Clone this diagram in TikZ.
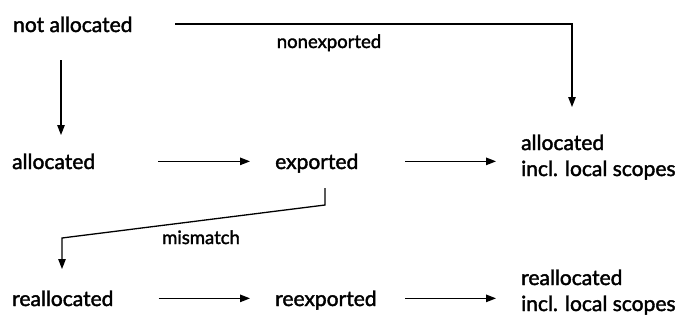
\documentclass[tikz,border=0pt]{standalone}
\usepackage{fontspec}
\setmainfont{Lato}[FakeBold=1.8]
\usetikzlibrary{arrows.meta,calc}
\begin{document}
\begin{tikzpicture}[x=1pt,y=-1pt,
  lbl/.style={inner sep=0pt,font=\fontsize{21}{26}\selectfont,anchor=base west},
  small/.style={inner sep=0pt,font=\fontsize{18.5}{22}\selectfont,anchor=base},
  arr/.style={line width=1.3pt,-{Triangle[length=10pt,width=7.5pt]}}]
\useasboundingbox (0,0) rectangle (683,324);
\node[lbl] (na) at (13,32) {not allocated};
\node[lbl] (al) at (12,169) {allocated};
\node[lbl] (ex) at (275,169) {exported};
\node[lbl,align=left] (ar) at (521,176) {allocated\\incl. local scopes};
\node[lbl] (ra) at (12,306) {reallocated};
\node[lbl] (rx) at (275,306) {reexported};
\node[lbl,align=left] (rr) at (521,311) {reallocated\\incl. local scopes};
\node[small] (ne) at (329,48) {nonexported};
\node[small] (mm) at (201,244) {mismatch};
\coordinate (neA) at (175,24);
\coordinate (neB) at (572,107);
\draw[arr] (neA) -| (neB);
\draw[arr] (61,60) -- (61,135);
\draw[arr] ([xshift=63pt]al.east) -- ([xshift=-25pt]al.east -| ex.west);
\draw[arr] (405,0 |- al.east) -- ([xshift=-25pt]al.east -| ar.west);
\draw[arr] ([xshift=45pt]ra.east) -- ([xshift=-25pt]ra.east -| rx.west);
\draw[arr] (405,0 |- ra.east) -- ([xshift=-25pt]ra.east -| rr.west);
\draw[arr] (325,188) -- (325,205) -- (62,238) -- (62,269);
\end{tikzpicture}
\end{document}
